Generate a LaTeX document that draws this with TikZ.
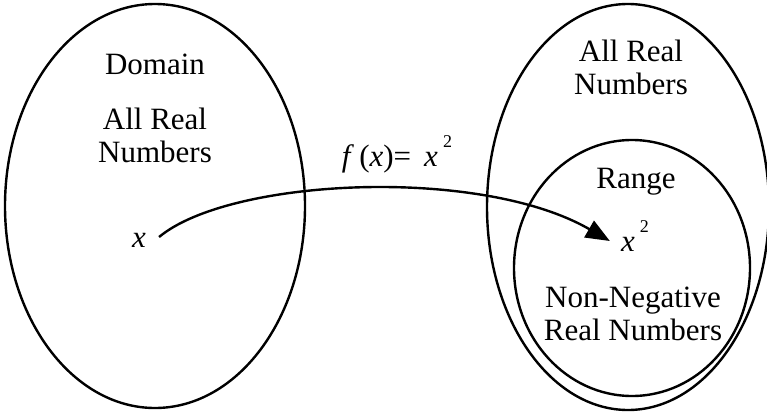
\documentclass[tikz,border=0pt]{standalone}
\usepackage{fontspec}
\setmainfont{Liberation Serif}
\usetikzlibrary{calc,arrows.meta}
\newcommand{\sqtwo}{\raisebox{0.62em}{\fontsize{18}{18}\selectfont 2}}

\begin{document}
\begin{tikzpicture}[x=1pt, y=-1pt, line width=2.4pt,
  lbl/.style={font=\fontsize{31}{33}\selectfont, align=center, inner sep=0pt},
  mth/.style={font=\fontsize{31}{33}\selectfont, inner sep=0pt}]
\useasboundingbox (0,0) rectangle (767,412);
% the three sets
\draw (155,206) ellipse [x radius=150, y radius=202];
\draw (628,207) ellipse [x radius=141, y radius=203];
\draw (632,268) ellipse [x radius=118, y radius=128];
% texts
\node[lbl] (dom) at (155,64) {Domain};
\node[lbl] (dreal) at (155,135) {All Real\\Numbers};
\node[lbl] (creal) at (631,67) {All Real\\Numbers};
\node[lbl] (rng) at (636,182) {Range};
\node[lbl] (nonneg) at (633,314) {Non-Negative\\Real Numbers};
\node[mth] (xa) at (139,240) {\textit{x}};
\node[mth] (xsq) at (635,236) {\textit{x}\,\sqtwo};
\node[mth] (fx) at (397,154) {\textit{f}\,(\textit{x})= \,\textit{x}\,\sqtwo};
% the map
\draw[-{Triangle[length=24pt, width=19pt]}] ($(xa.east)+(12,-3)$) .. controls (230,178) and (480,166) .. ($(xsq.west)+(-10,5)$);
\end{tikzpicture}
\end{document}
